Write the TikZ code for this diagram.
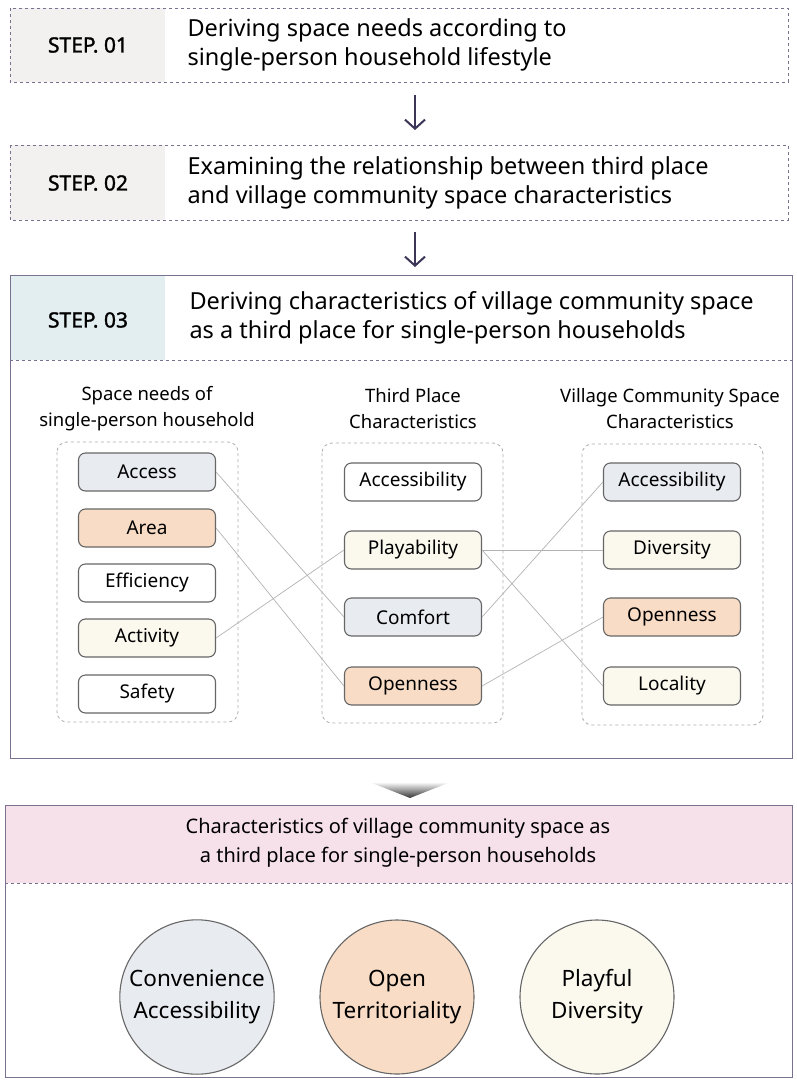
\documentclass[tikz,border=0pt]{standalone}
\usepackage{fontspec}
\setmainfont{Noto Sans}[AutoFakeBold=1.5]
\usetikzlibrary{arrows.meta}
\definecolor{bluegray}{HTML}{E8EBF0}
\definecolor{peach}{HTML}{F8DCC5}
\definecolor{cream}{HTML}{FBF8EE}
\definecolor{frame}{HTML}{7A7090}
\definecolor{arr}{HTML}{3C3557}
\definecolor{lblgray}{HTML}{F2F1F0}
\definecolor{lblblue}{HTML}{E3EEF0}
\definecolor{lblpink}{HTML}{F6E1EA}
\begin{document}
\begin{tikzpicture}[x=1pt,y=-1pt,
  item/.style={draw=gray!80!black,line width=1.1pt,rounded corners=7pt,minimum width=137pt,minimum height=38pt,inner sep=0pt,font=\fontsize{19}{22}\selectfont},
  grp/.style={draw=gray!65,dashed,line width=0.8pt,rounded corners=10pt},
  head/.style={align=center,font=\fontsize{18.5}{26}\selectfont},
  steptxt/.style={anchor=west,align=left,font=\fontsize{23.5}{29}\selectfont},
  steplbl/.style={font=\bfseries\fontsize{21}{24}\selectfont},
  link/.style={draw=gray!60,line width=0.7pt},
  circ/.style={circle,draw=gray!80!black,line width=1.1pt,minimum size=154pt,align=center,font=\fontsize{22.5}{32}\selectfont},
  darr/.style={-{Straight Barb[length=9pt,width=20pt]},draw=arr,line width=2pt}]
\useasboundingbox (0,0) rectangle (797,1084);
% step 1
\fill[lblgray] (10,8) rectangle (165,82);
\draw[frame,dashed] (10,8) rectangle (788,82);
\node[steplbl] (s1) at (88,45) {STEP. 01};
\node[steptxt] (t1) at (184,45) {Deriving space needs according to\\single-person household lifestyle};
\coordinate (a1) at (415,95); \coordinate (b1) at (415,130);
\draw[darr] (a1) -- (b1);
% step 2
\fill[lblgray] (10,145) rectangle (165,220);
\draw[frame,dashed] (10,145) rectangle (788,220);
\node[steplbl] (s2) at (88,183) {STEP. 02};
\node[steptxt] (t2) at (184,183) {Examining the relationship between third place\\and village community space characteristics};
\coordinate (a2) at (415,232); \coordinate (b2) at (415,267);
\draw[darr] (a2) -- (b2);
% step 3
\fill[lblblue] (10,275) rectangle (165,360);
\draw[frame,dashed] (10,360) -- (792,360);
\draw[frame,line width=1pt] (10,275) rectangle (792,758);
\node[steplbl] (s3) at (88,320) {STEP. 03};
\node[steptxt] (t3) at (186,318) {Deriving characteristics of village community space\\as a third place for single-person households};
% headings
\node[head] (h1) at (147,409) {Space needs of\\single-person household};
\node[head] (h2) at (413,409) {Third Place\\Characteristics};
\node[head] (h3) at (670,409) {Village Community Space\\Characteristics};
\draw[grp] (57,442) rectangle (238,722);
\draw[grp] (322,443) rectangle (503,723);
\draw[grp] (582,444) rectangle (763,725);
% left
\node[item,fill=bluegray] (l1) at (147,472) {Access};
\node[item,fill=peach] (l2) at (147,528) {Area};
\node[item,fill=white] (l3) at (147,583) {Efficiency};
\node[item,fill=cream] (l4) at (147,638) {Activity};
\node[item,fill=white] (l5) at (147,694) {Safety};
% mid
\node[item,fill=white] (m1) at (413,482) {Accessibility};
\node[item,fill=cream] (m2) at (413,550) {Playability};
\node[item,fill=bluegray] (m3) at (413,617) {Comfort};
\node[item,fill=peach] (m4) at (413,686) {Openness};
% right
\node[item,fill=bluegray] (r1) at (672,482) {Accessibility};
\node[item,fill=cream] (r2) at (672,550) {Diversity};
\node[item,fill=peach] (r3) at (672,617) {Openness};
\node[item,fill=cream] (r4) at (672,686) {Locality};
% links
\draw[link] (l1.east) -- (m3.west);
\draw[link] (l2.east) -- (m4.west);
\draw[link] (l4.east) -- (m2.west);
\draw[link] (m3.east) -- (r1.west);
\draw[link] (m2.east) -- (r2.west);
\draw[link] (m2.east) -- (r4.west);
\draw[link] (m4.east) -- (r3.west);
% down triangle
\shade[top color=gray!10,bottom color=black!80] (372,783) -- (448,783) -- (410,798) -- cycle;
% bottom
\fill[lblpink] (5,805) rectangle (792,883);
\draw[frame,dashed] (5,883) -- (792,883);
\draw[frame,line width=1pt] (5,805) rectangle (792,1077);
\node[head,font=\fontsize{20}{29}\selectfont] (bh) at (398,843) {Characteristics of village community space as\\a third place for single-person households};
\node[circ,fill=bluegray] (c1) at (197,997) {Convenience\\Accessibility};
\node[circ,fill=peach] (c2) at (397,997) {Open\\Territoriality};
\node[circ,fill=cream] (c3) at (597,997) {Playful\\Diversity};
\end{tikzpicture}
\end{document}
